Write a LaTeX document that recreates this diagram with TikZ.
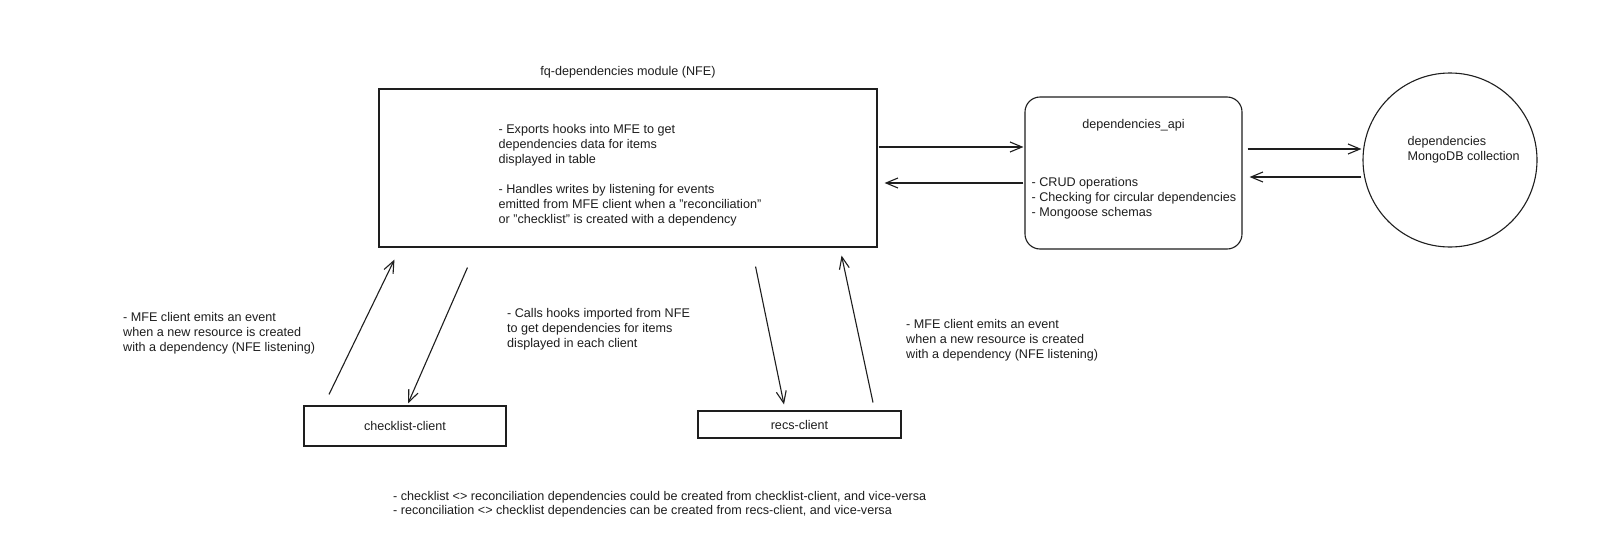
\documentclass[tikz,border=0pt]{standalone}
\usepackage{fontspec}
\setmainfont{Liberation Sans}
\usepackage{tikz}
\usetikzlibrary{arrows.meta,positioning,calc}
\definecolor{SketchInk}{HTML}{1E1E1E}
\tikzset{
  blockbox/.style={draw=SketchInk,line width=1.1pt,inner sep=0pt,fill=white},
  notetext/.style={align=left,inner sep=0pt,text=SketchInk,font=\fontsize{12.6}{15}\selectfont},
  flowarrow/.style={-{Straight Barb[length=12pt,width=10pt]},line width=1.1pt,draw=SketchInk}
}

\begin{document}
\begin{tikzpicture}[x=1pt,y=-1pt]
\useasboundingbox (0,0) rectangle (1606,544);
\fill[white] (0,0) rectangle (1606,544);

\node[blockbox,minimum width=498pt,minimum height=158pt] (mod) at (628,168) {};
\node[notetext,anchor=west] (modtext) at ($(mod.west)+(120,7)$)
  {- Exports hooks into MFE to get\\dependencies data for items\\displayed in table\\[15pt]- Handles writes by listening for events\\emitted from MFE client when a "reconciliation"\\or "checklist" is created with a dependency};
\node[notetext,above=10pt of mod] (modtitle) {fq-dependencies module (NFE)};

\node[blockbox,rounded corners=15pt,minimum width=217pt,minimum height=152pt] (api) at (1133.5,173) {};
\node[notetext,below=23pt of api.north] (apititle) {dependencies\_api};
\node[notetext,anchor=west] (apilist) at ($(api.west)+(7,25)$)
  {- CRUD operations\\- Checking for circular dependencies\\- Mongoose schemas};

\node[blockbox,circle,minimum size=174pt] (db) at (1450,160) {};
\node[notetext,anchor=west] (dblabel) at ($(db.west)+(45,-10.5)$) {dependencies\\MongoDB collection};

\node[blockbox,notetext,minimum width=202pt,minimum height=40pt] (chk) at (405,426) {checklist-client};
\node[blockbox,notetext,minimum width=203pt,minimum height=27pt] (recs) at (799.5,424.5) {recs-client};

\node[notetext,anchor=west] (leftnote) at (123,333)
  {- MFE client emits an event\\when a new resource is created\\with a dependency (NFE listening)};
\node[notetext,anchor=west] (midnote) at (507,329)
  {- Calls hooks imported from NFE\\to get dependencies for items\\displayed in each client};
\node[notetext,anchor=west] (rightnote) at (906,340)
  {- MFE client emits an event\\when a new resource is created\\with a dependency (NFE listening)};
\node[notetext,anchor=west,font=\fontsize{12.6}{14}\selectfont] (footnote) at (393,504)
  {- checklist <> reconciliation dependencies could be created from checklist-client, and vice-versa\\- reconciliation <> checklist dependencies can be created from recs-client, and vice-versa};

\draw[flowarrow] ($(mod.east)+(1,-21)$) -- ($(api.west)+(-1,-26)$);
\draw[flowarrow] ($(api.west)+(-1,10)$) -- ($(mod.east)+(7,15)$);
\draw[flowarrow] ($(api.east)+(5,-24)$) -- ($(db.west)+(-1,-11)$);
\draw[flowarrow] ($(db.west)+(-1,17)$) -- ($(api.east)+(7,4)$);

\draw[flowarrow] ($(chk.north)+(-76,-11)$) -- ($(mod.south west)+(16,12)$);
\draw[flowarrow] ($(mod.south west)+(89,20)$) -- ($(chk.north)+(3,-2)$);
\draw[flowarrow] ($(mod.south east)+(-122,19)$) -- ($(recs.north)+(-15.5,-6)$);
\draw[flowarrow] ($(recs.north)+(73.5,-8)$) -- ($(mod.south east)+(-36,8)$);
\end{tikzpicture}
\end{document}
